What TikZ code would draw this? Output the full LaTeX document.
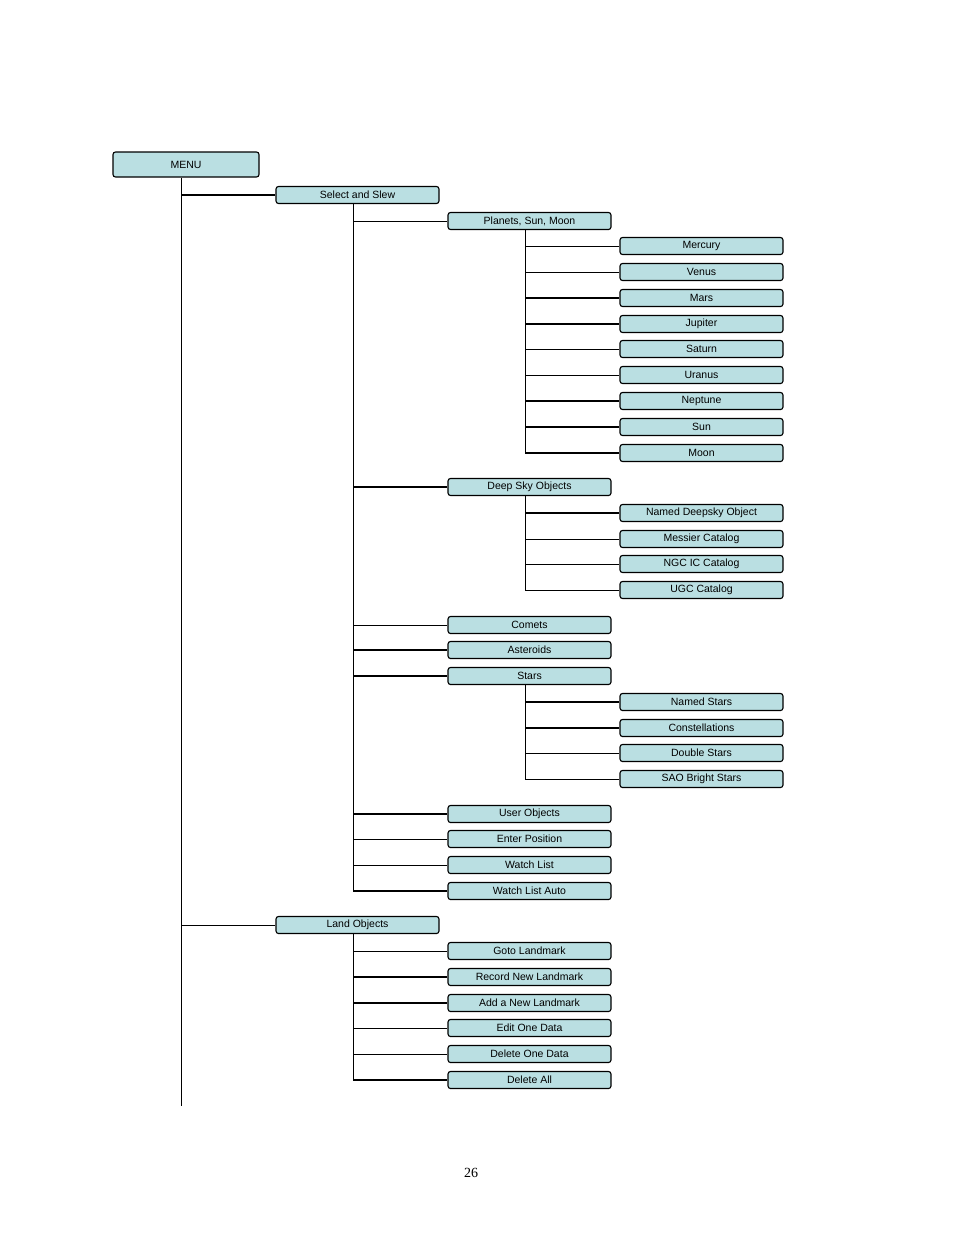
\documentclass[tikz,border=0pt]{standalone}
\usepackage{fontspec}
\setmainfont{Liberation Serif}
\newfontfamily\boxfont{Liberation Sans}
\definecolor{boxfill}{HTML}{BADFE2}
\tikzset{
  menubox/.style={draw, line width=1.1pt, fill=boxfill, rounded corners=2.5pt,
    minimum width=163pt, minimum height=17pt, inner sep=0pt, font=\boxfont\fontsize{10.5}{12}\selectfont},
  thin link/.style={line width=0.6pt},
  thick link/.style={line width=1.4pt}
}
\begin{document}
\begin{tikzpicture}[x=1pt,y=-1pt]
    \useasboundingbox (0,0) rectangle (954,1235);
    \node[menubox, minimum width=146pt, minimum height=25pt] (menu) at (186,164.5) {MENU};
    \node[menubox] (select) at (357.5,195) {Select and Slew};
    \node[menubox] (land) at (357.5,925) {Land Objects};

    % level 2
    \foreach \name/\y/\txt in {planets/221/{Planets, Sun, Moon}, deep/487/Deep Sky Objects,
        comets/625/Comets, asteroids/650/Asteroids, stars/676/Stars, user/814/User Objects,
        enter/839/Enter Position, watch/865/Watch List, watchauto/891/Watch List Auto,
        goto/951/Goto Landmark, record/977/Record New Landmark, add/1003/Add a New Landmark,
        edit/1028/Edit One Data, delone/1054/Delete One Data, delall/1080/Delete All}
      \node[menubox] (\name) at (529.5,\y) {\txt};

    % level 3
    \foreach \name/\y/\txt in {mercury/246/Mercury, venus/272/Venus, mars/298/Mars,
        jupiter/324/Jupiter, saturn/349/Saturn, uranus/375/Uranus, neptune/401/Neptune,
        sun/427/Sun, moon/453/Moon, nameddeep/513/Named Deepsky Object,
        messier/539/Messier Catalog, ngc/564/NGC IC Catalog, ugc/590/UGC Catalog,
        namedstars/702/Named Stars, constell/728/Constellations, double/753/Double Stars,
        sao/779/SAO Bright Stars}
      \node[menubox] (\name) at (701.5,\y) {\txt};

    % trunks
    \coordinate (menuend) at (181,1106);
    \draw[thin link] (menu.south -| menuend) -- (menuend);
    \draw[thin link] (select.south -| 353,0) -- (watchauto.west -| 353,0);
    \draw[thin link] (land.south -| 353,0) -- (delall.west -| 353,0);
    \draw[thin link] (planets.south -| 525,0) -- (moon.west -| 525,0);
    \draw[thin link] (deep.south -| 525,0) -- (ugc.west -| 525,0);
    \draw[thin link] (stars.south -| 525,0) -- (sao.west -| 525,0);

    % branches
    \foreach \child/\x/\w in {select/181/thick, land/181/thin,
        planets/353/thin, deep/353/thick, comets/353/thin, asteroids/353/thick,
        stars/353/thick, user/353/thick, enter/353/thin, watch/353/thin,
        watchauto/353/thick, goto/353/thin, record/353/thick, add/353/thick,
        edit/353/thin, delone/353/thin, delall/353/thick,
        mercury/525/thin, venus/525/thin, mars/525/thick, jupiter/525/thick,
        saturn/525/thin, uranus/525/thin, neptune/525/thick, sun/525/thick,
        moon/525/thick, nameddeep/525/thick, messier/525/thin, ngc/525/thin,
        ugc/525/thin, namedstars/525/thick, constell/525/thick,
        double/525/thin, sao/525/thin}
      \draw[\w\space link] (\child.west -| \x,0) -- (\child.west);

    \node[font=\fontsize{14}{16}\selectfont] (page) at (471,1173) {26};
\end{tikzpicture}
\end{document}
